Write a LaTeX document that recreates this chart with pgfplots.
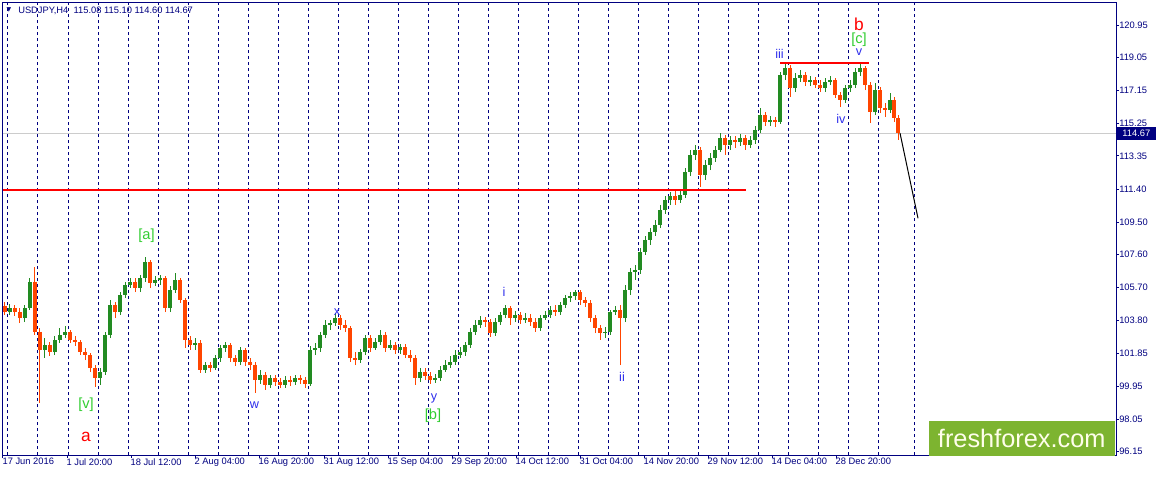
\documentclass[border=0pt]{standalone}
\usepackage{pgfplots}
\pgfplotsset{compat=1.18}
\usepackage{pgfplotstable}
\usepackage{fontspec}
\setmainfont{Liberation Sans}
\newfontfamily\dejavu{DejaVu Sans}
\definecolor{navy}{RGB}{0,0,128}
\definecolor{bull}{RGB}{34,139,34}
\definecolor{bear}{RGB}{255,69,0}
\definecolor{wblue}{RGB}{45,45,235}
\definecolor{wgreen}{RGB}{50,205,50}
\definecolor{logo}{RGB}{125,180,48}

\pgfplotstableread{
x o h l c
5 104.62 104.85 104.10 104.27
10 104.27 104.74 104.10 104.51
15 104.51 104.68 104.04 104.27
20 104.27 104.51 103.63 103.92
25 103.92 104.68 103.69 104.51
30 104.51 106.25 104.39 106.02
35 106.02 106.89 102.94 103.11
40 103.11 103.34 98.99 102.07
45 102.07 102.76 101.60 102.36
50 102.36 102.53 101.72 101.95
55 101.95 102.88 101.77 102.65
60 102.65 103.34 102.47 102.94
65 102.94 103.46 102.76 103.11
70 103.11 103.23 102.47 102.65
75 102.65 102.88 102.30 102.53
80 102.53 102.65 101.77 101.95
85 101.95 102.18 101.48 101.77
90 101.77 101.89 100.79 101.02
95 101.02 101.19 99.92 100.44
100 100.44 101.02 100.03 100.79
105 100.79 103.11 100.61 102.94
110 102.94 104.97 102.76 104.68
115 104.68 104.85 103.92 104.27
120 104.27 105.43 104.10 105.26
125 105.26 106.02 105.09 105.84
130 105.84 106.25 105.67 106.02
135 106.02 106.25 105.43 105.67
140 105.67 106.42 105.43 106.25
145 106.25 107.47 106.02 107.18
150 107.18 107.30 105.67 105.96
155 105.96 106.37 105.78 106.14
160 106.14 106.42 105.84 106.25
165 106.25 106.37 104.27 104.51
170 104.51 105.78 104.27 105.55
175 105.55 106.54 105.38 106.14
180 106.14 106.25 104.80 104.97
185 104.97 105.09 102.18 102.65
190 102.65 102.88 102.07 102.36
195 102.36 102.76 102.07 102.47
200 102.47 102.65 100.73 100.90
205 100.90 101.37 100.73 101.19
210 101.19 101.37 100.79 101.02
215 101.02 101.77 100.90 101.60
220 101.60 102.36 101.37 102.18
225 102.18 102.53 101.95 102.36
230 102.36 102.47 101.37 101.60
235 101.60 101.77 101.13 101.37
240 101.37 102.24 101.19 102.07
245 102.07 102.18 101.13 101.37
250 101.37 101.60 100.90 101.19
255 101.19 101.37 99.57 100.32
260 100.32 100.90 100.09 100.61
265 100.61 100.79 99.74 100.03
270 100.03 100.61 99.86 100.44
275 100.44 100.61 99.97 100.21
280 100.21 100.44 99.86 100.03
285 100.03 100.55 99.86 100.32
290 100.32 100.55 99.97 100.21
295 100.21 100.61 100.03 100.44
300 100.44 100.61 100.09 100.32
305 100.32 100.50 99.86 100.09
310 100.09 102.30 99.97 102.07
315 102.07 102.47 101.77 102.18
320 102.18 103.11 101.95 102.94
325 102.94 103.81 102.76 103.52
330 103.52 103.81 103.23 103.63
335 103.63 104.21 103.46 103.92
340 103.92 104.10 103.23 103.52
345 103.52 103.81 103.11 103.34
350 103.34 103.46 101.37 101.60
355 101.60 101.95 101.19 101.48
360 101.48 102.12 101.31 101.95
365 101.95 102.94 101.77 102.76
370 102.76 102.94 101.95 102.18
375 102.18 102.76 102.07 102.53
380 102.53 103.23 102.36 102.94
385 102.94 103.11 101.95 102.18
390 102.18 102.65 102.07 102.36
395 102.36 102.53 101.83 102.07
400 102.07 102.41 101.83 102.24
405 102.24 102.41 101.60 101.77
410 101.77 102.07 101.37 101.60
415 101.60 101.77 100.03 100.44
420 100.44 101.02 100.21 100.79
425 100.79 101.02 100.32 100.55
430 100.55 100.79 100.09 100.32
435 100.32 100.67 100.15 100.44
440 100.44 101.13 100.26 100.90
445 100.90 101.48 100.79 101.19
450 101.19 101.72 101.02 101.37
455 101.37 102.07 101.19 101.77
460 101.77 102.24 101.60 101.95
465 101.95 102.53 101.72 102.36
470 102.36 103.34 102.18 103.11
475 103.11 103.81 102.94 103.52
480 103.52 104.04 103.34 103.81
485 103.81 103.98 103.40 103.69
490 103.69 103.87 102.82 103.05
495 103.05 103.92 102.88 103.69
500 103.69 104.27 103.52 104.10
505 104.10 104.68 103.92 104.51
510 104.51 104.62 103.52 103.92
515 103.92 104.33 103.69 104.10
520 104.10 104.27 103.58 103.81
525 103.81 104.21 103.63 103.92
530 103.92 104.16 103.46 103.69
535 103.69 103.92 103.11 103.34
540 103.34 104.10 103.17 103.92
545 103.92 104.33 103.81 104.10
550 104.10 104.62 103.92 104.39
555 104.39 104.68 104.04 104.27
560 104.27 104.85 104.10 104.68
565 104.68 105.26 104.51 105.09
570 105.09 105.43 104.85 105.20
575 105.20 105.55 104.97 105.43
580 105.43 105.55 104.68 104.97
585 104.97 105.14 104.56 104.80
590 104.80 104.97 103.69 103.92
595 103.92 104.10 103.05 103.34
600 103.34 103.52 102.65 103.05
605 103.05 103.40 102.76 103.11
610 103.11 104.39 102.94 104.27
615 104.27 104.62 104.10 104.39
620 104.39 104.68 101.19 103.92
625 103.92 105.84 103.69 105.55
630 105.55 106.83 105.26 106.60
635 106.60 107.01 106.14 106.72
640 106.72 108.00 106.48 107.76
645 107.76 108.69 107.59 108.46
650 108.46 109.15 108.17 108.92
655 108.92 109.62 108.69 109.33
660 109.33 110.49 109.15 110.20
665 110.20 111.01 109.97 110.78
670 110.78 111.25 110.49 111.01
675 111.01 111.36 110.49 110.78
680 110.78 111.36 110.61 111.07
685 111.07 112.64 110.90 112.41
690 112.41 113.69 112.17 113.40
695 113.40 113.98 113.10 113.69
700 113.69 113.86 111.54 112.23
705 112.23 113.10 111.94 112.81
710 112.81 113.51 112.52 113.22
715 113.22 113.92 112.99 113.69
720 113.69 114.67 113.57 114.38
725 114.38 114.56 113.40 113.98
730 113.98 114.50 113.69 114.27
735 114.27 114.50 113.80 114.15
740 114.15 114.61 113.92 114.38
745 114.38 114.56 113.69 113.98
750 113.98 114.50 113.80 114.27
755 114.27 115.08 114.03 114.85
760 114.85 116.13 114.67 115.72
765 115.72 115.89 115.08 115.31
770 115.31 115.66 115.08 115.43
775 115.43 115.60 115.02 115.31
780 115.31 118.22 115.20 118.04
785 118.04 118.80 117.75 118.45
790 118.45 118.62 116.76 117.29
795 117.29 118.16 117.05 117.87
800 117.87 118.33 117.64 118.04
805 118.04 118.22 117.40 117.64
810 117.64 117.98 117.40 117.75
815 117.75 117.93 117.29 117.46
820 117.46 117.75 117.05 117.29
825 117.29 117.87 117.05 117.64
830 117.64 117.98 117.46 117.75
835 117.75 117.87 116.71 116.88
840 116.88 117.05 116.18 116.59
845 116.59 117.46 116.42 117.29
850 117.29 117.75 117.05 117.46
855 117.46 118.45 117.29 118.22
860 118.22 118.74 117.98 118.45
865 118.45 118.57 117.17 117.46
870 117.46 117.64 115.25 115.89
875 115.89 117.58 115.72 117.17
880 117.17 117.35 115.83 116.13
885 116.13 116.42 115.60 116.01
890 116.01 117.00 115.83 116.59
894 116.59 116.76 115.31 115.54
898 115.54 115.72 114.27 114.67
}\candles

\newcommand{\tf}{\fontsize{7}{8}\selectfont}

\begin{document}
\begin{tikzpicture}
\useasboundingbox (0,0) rectangle (867pt,357pt);
\begin{axis}[
  at={(2.25pt,15.75pt)}, anchor=south west,
  scale only axis, width=834.75pt, height=339pt,
  xmin=3, xmax=1116, ymin=95.96, ymax=122.23,
  clip=false,
  axis line style={navy, line width=0.75pt},
  xtick pos=left, ytick pos=right, tick align=outside,
  major tick length=2.25pt,
  tick style={navy, line width=0.75pt},
  xtick={3,67,131,195,259,324,388,452,516,580,644,708,772,836},
  xticklabels={17 Jun 2016, 1 Jul 20:00, 18 Jul 12:00, 2 Aug 04:00, 16 Aug 20:00, 31 Aug 12:00, 15 Sep 04:00, 29 Sep 20:00, 14 Oct 12:00, 31 Oct 04:00, 14 Nov 20:00, 29 Nov 12:00, 14 Dec 04:00, 28 Dec 20:00},
  xticklabel style={anchor=north west, inner sep=0pt, font=\tf, text=navy, xshift=-0.5pt},
  ytick={96.15,98.05,99.95,101.85,103.80,105.70,107.60,109.50,111.40,113.35,115.25,117.15,119.05,120.95},
  yticklabels={96.15,98.05,99.95,101.85,103.80,105.70,107.60,109.50,111.40,113.35,115.25,117.15,119.05,120.95},
  yticklabel style={anchor=west, inner sep=0pt, font=\tf, text=navy},
  extra x ticks={8,38,68,98,128,158,188,218,248,278,308,338,368,398,428,458,488,518,548,578,608,638,668,698,728,758,788,818,848,878,914},
  extra x tick labels={},
  extra x tick style={grid=major, major tick length=0pt, major grid style={navy, dash pattern=on 2.25pt off 2.25pt, line width=0.75pt}},
]
% last price line
\addplot[gray!40, line width=0.75pt] coordinates {(3,114.67) (1116,114.67)};
% candles: bull
\addplot[color=bull, line width=0.75pt, quiver={u=0, v=\thisrow{h}-\thisrow{l}, every arrow/.append style={-}},
  restrict expr to domain={\thisrow{c}-\thisrow{o}}{0:100}] table[x=x, y=l] {\candles};
\addplot[color=bull, line width=2.4pt, quiver={u=0, v=\thisrow{c}-\thisrow{o}, every arrow/.append style={-}},
  restrict expr to domain={\thisrow{c}-\thisrow{o}}{0:100}] table[x=x, y=o] {\candles};
% candles: bear
\addplot[color=bear, line width=0.75pt, quiver={u=0, v=\thisrow{h}-\thisrow{l}, every arrow/.append style={-}},
  restrict expr to domain={\thisrow{c}-\thisrow{o}}{-100:0}] table[x=x, y=l] {\candles};
\addplot[color=bear, line width=2.4pt, quiver={u=0, v=\thisrow{c}-\thisrow{o}, every arrow/.append style={-}},
  restrict expr to domain={\thisrow{c}-\thisrow{o}}{-100:0}] table[x=x, y=o] {\candles};
% horizontal levels
\addplot[red, line width=1.5pt] coordinates {(3,111.37) (746,111.37)};
\addplot[red, line width=1.5pt] coordinates {(780,118.76) (869,118.76)};
% projection
\addplot[black, line width=0.75pt] coordinates {(900,114.67) (918,109.72)};

% wave labels
\node[text=wgreen, font=\fontsize{11}{12}\selectfont] at (axis cs:146.5,108.72) {[a]};
\node[text=wgreen, font=\fontsize{11}{12}\selectfont] at (axis cs:86,98.90) {[v]};
\node[text=red, font=\fontsize{13}{14}\selectfont] at (axis cs:86,97.01) {a};
\node[text=wblue, font=\fontsize{9.5}{10}\selectfont] at (axis cs:254.5,98.84) {w};
\node[text=wblue, font=\fontsize{9.5}{10}\selectfont] at (axis cs:337,104.27) {x};
\node[text=wblue, font=\fontsize{9.5}{10}\selectfont] at (axis cs:434,99.22) {y};
\node[text=wgreen, font=\fontsize{11}{12}\selectfont] at (axis cs:433,98.23) {[b]};
\node[text=wblue, font=\fontsize{9.5}{10}\selectfont] at (axis cs:504,105.43) {i};
\node[text=wblue, font=\fontsize{9.5}{10}\selectfont] at (axis cs:622,100.50) {ii};
\node[text=wblue, font=\fontsize{9.5}{10}\selectfont] at (axis cs:779.5,119.26) {iii};
\node[text=wblue, font=\fontsize{9.5}{10}\selectfont] at (axis cs:841,115.49) {iv};
\node[text=wblue, font=\fontsize{9.5}{10}\selectfont] at (axis cs:859,119.38) {v};
\node[text=wgreen, font=\fontsize{11}{12}\selectfont] at (axis cs:859,120.08) {[c]};
\node[text=red, font=\fontsize{13}{14}\selectfont] at (axis cs:859,121.01) {b};

% title
\node[anchor=north west, inner sep=0pt, text=navy, font=\dejavu\fontsize{4.5}{5}\selectfont] at ([xshift=2.6pt,yshift=-3.6pt]rel axis cs:0,1) {▼};
\node[anchor=north west, inner sep=0pt, text=navy, font=\tf] at ([xshift=11.25pt,yshift=-3pt]rel axis cs:0,1) {USDJPY,H4\hspace{4pt}115.08 115.10 114.60 114.67};

% last price tag
\node[fill=navy, text=white, anchor=west, inner sep=0pt, minimum width=29.25pt, minimum height=9.75pt, font=\tf] at ([xshift=0.4pt]axis cs:1116,114.67) {114.67};

% logo
\node[fill=logo, text=white!92!yellow, anchor=south east, inner sep=0pt, minimum width=139.5pt, minimum height=26.25pt, font=\fontsize{19}{20}\selectfont] at ([xshift=-0.75pt,yshift=-0.75pt]rel axis cs:1,0) {freshforex.com};
\end{axis}
\end{tikzpicture}
\end{document}
